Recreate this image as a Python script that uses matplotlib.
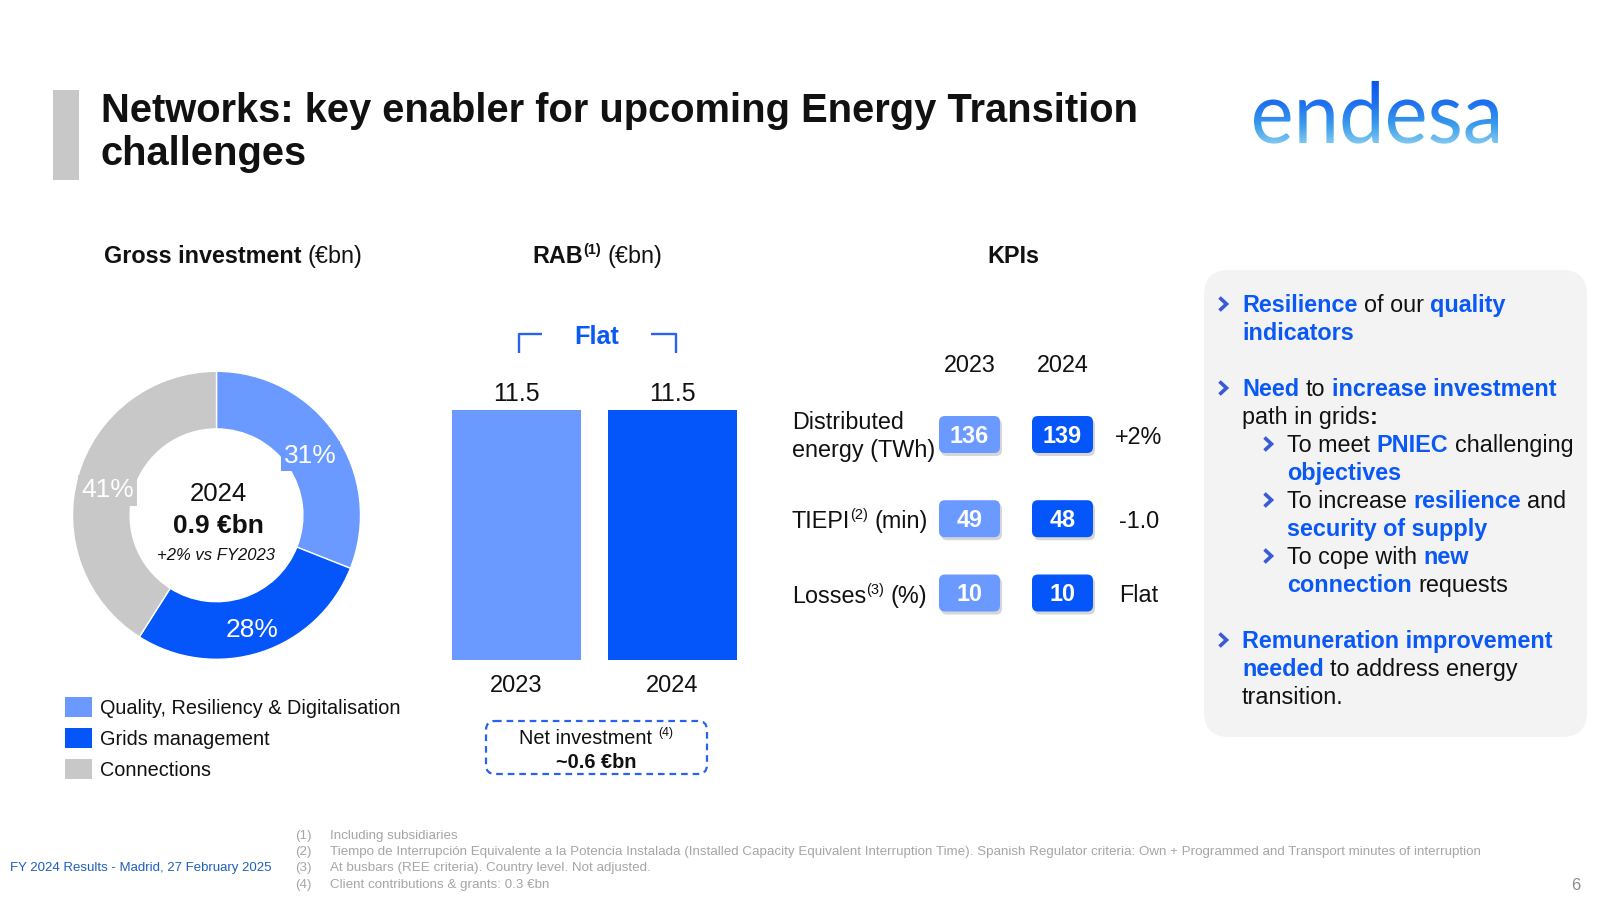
import matplotlib
matplotlib.use("Agg")
import matplotlib.pyplot as plt
from matplotlib.patches import FancyBboxPatch, PathPatch, Rectangle
from matplotlib.textpath import TextPath
from matplotlib.font_manager import FontProperties, fontManager
from matplotlib.transforms import Affine2D
from matplotlib.colors import LinearSegmentedColormap
import numpy as np

# ---------------- data ----------------
title_lines = ["Networks: key enabler for upcoming Energy Transition", "challenges"]

inv_labels = ["Quality, Resiliency & Digitalisation", "Grids management", "Connections"]
inv_shares = [31, 28, 41]
inv_year = "2024"
inv_total = "0.9 €bn"
inv_growth = "+2% vs FY2023"

rab_years = ["2023", "2024"]
rab_values = [11.5, 11.5]
rab_change = "Flat"
net_invest = "~0.6 €bn"

kpi_years = ["2023", "2024"]
kpi_2023 = [136, 49, 10]
kpi_2024 = [139, 48, 10]
kpi_delta = ["+2%", "-1.0", "Flat"]

footer = "FY 2024 Results - Madrid, 27 February 2025"
footnotes = [
    "Including subsidiaries",
    "Tiempo de Interrupción Equivalente a la Potencia Instalada (Installed Capacity Equivalent Interruption Time). "
    "Spanish Regulator criteria: Own + Programmed and Transport minutes of interruption",
    "At busbars (REE criteria). Country level. Not adjusted.",
    "Client contributions & grants: 0.3 €bn",
]
page_no = "6"

# ---------------- style ----------------
plt.rcParams["font.family"] = ["Liberation Sans", "DejaVu Sans"]
LIGHT = "#6A99FF"
DARK = "#0556FA"
GREY = "#C8C8C8"
TXT = "#111111"
HL = "#0A58F5"
CHEV = "#3A5BD8"
FN = "#A6A6A6"

W, H = 1600, 900
fig = plt.figure(figsize=(16, 9), dpi=100)
fig.patch.set_facecolor("white")
R = fig.canvas.get_renderer()


def px_axes(x0, y0, x1, y1, z=1):
    return fig.add_axes([x0 / W, 1 - y1 / H, (x1 - x0) / W, (y1 - y0) / H], zorder=z)


ax0 = px_axes(0, 0, W, H, z=5)
ax0.set_xlim(0, W)
ax0.set_ylim(H, 0)
ax0.axis("off")
ax0.patch.set_alpha(0)

PX = 100 / 72.0


def rich(x, y, parts, size, ha="left", family=None):
    """parts: list of (text, color, weight, sup)"""
    spx = size * PX
    base = y + 0.716 * spx / 2
    cx = x
    made = []
    for p in parts:
        text = p[0]
        color = p[1] if len(p) > 1 and p[1] else TXT
        weight = p[2] if len(p) > 2 and p[2] else "normal"
        sup = p[3] if len(p) > 3 else False
        fs = size * 0.62 if sup else size
        sw = 0.278 * fs * PX
        lead = len(text) - len(text.lstrip(" "))
        trail = len(text) - len(text.rstrip(" "))
        s = text.strip(" ")
        cx += lead * sw
        yy = base - (0.40 * spx if sup else 0)
        kw = {}
        if family:
            kw["family"] = family
        t = ax0.text(cx, yy, s, fontsize=fs, color=color, weight=weight,
                     ha="left", va="baseline", **kw)
        w = t.get_window_extent(renderer=R).width if s else 0
        made.append(t)
        cx += w + trail * sw
    total = cx - x
    if ha == "center":
        for t in made:
            t.set_x(t.get_position()[0] - total / 2)
    return made


def ctext(x, y, s, size, color=TXT, weight="normal", style="normal", ha="center"):
    spx = size * PX
    return ax0.text(x, y + 0.716 * spx / 2, s, fontsize=size, color=color,
                    weight=weight, style=style, ha=ha, va="baseline")


# ---------------- title ----------------
ax0.add_patch(Rectangle((53, 90), 26, 90, color=GREY, lw=0))
ax0.text(101, 122, title_lines[0], fontsize=28.7, weight="bold", color=TXT, va="baseline")
ax0.text(101, 165, title_lines[1], fontsize=28.7, weight="bold", color=TXT, va="baseline")

# ---------------- logo (gradient text) ----------------
names = {f.name for f in fontManager.ttflist}
logo_fam = "Lato" if "Lato" in names else "DejaVu Sans"
tp = TextPath((0, 0), "endesa", size=100, prop=FontProperties(family=logo_fam, weight="normal"))
bb = tp.get_extents()
lx0, lx1, lbase, xh = 1254, 1498, 143, 44
sx = (lx1 - lx0) / bb.width
sy = xh / 52.0
trans = Affine2D().translate(-bb.x0, 0).scale(sx, -sy).translate(lx0, lbase) + ax0.transData
patch = PathPatch(tp, transform=trans, facecolor="none", edgecolor="none")
ax0.add_patch(patch)
grad = np.linspace(0, 1, 256).reshape(-1, 1)
cmap = LinearSegmentedColormap.from_list("lg", ["#0A55F0", "#1E6FF0", "#3A9CEB", "#8ED0F2"])
im = ax0.imshow(grad, cmap=cmap, extent=(lx0 - 5, lx1 + 5, lbase + 4, lbase - 62),
                aspect="auto", zorder=3)
im.set_clip_path(patch)
ax0.set_xlim(0, W)
ax0.set_ylim(H, 0)

# ---------------- section headings ----------------
rich(233, 255, [("Gross investment", TXT, "bold"), (" (€bn)", TXT, "normal")], 16.8, ha="center")
rich(597, 255, [("RAB", TXT, "bold"), ("(1)", TXT, "bold", True), (" (€bn)", TXT, "normal")], 16.8, ha="center")
ctext(1013, 255, "KPIs", 16.8, weight="bold")

# ---------------- donut ----------------
cx, cy, ro = 216.5, 515.3, 144
axd = px_axes(cx - ro, cy - ro, cx + ro, cy + ro, z=2)
cols = [LIGHT, DARK, GREY]
wedges, _, autot = axd.pie(inv_shares, colors=cols, startangle=90, counterclock=False,
                           radius=1, autopct="%.0f%%", pctdistance=0.79,
                           wedgeprops=dict(width=0.40, edgecolor="white", linewidth=1),
                           textprops=dict(color="white", fontsize=19))
for i, (t, c) in enumerate(zip(autot, cols)):
    t.set_va("center_baseline")
    x, y = t.get_position()
    t.set_position((x, y - (0.015 if i == 0 else 0.03)))
    if i != 1:
        t.set_bbox(dict(boxstyle="square,pad=0.12", facecolor=c, edgecolor="none"))
axd.set_xlim(-1, 1)
axd.set_ylim(-1, 1)
axd.set_aspect("equal")

ctext(218, 492, inv_year, 18.5)
ctext(218, 524, inv_total, 19, weight="bold")
ctext(216, 554, inv_growth, 12, style="italic")

# legend
leg_y = [707, 738, 768.5]
for lab, c, yy in zip(inv_labels, cols, leg_y):
    ax0.add_patch(Rectangle((65, yy - 10), 27, 20, color=c, lw=0))
    ctext(100, yy, lab, 14.3, ha="left")

# ---------------- RAB bars ----------------
bw = 129 / 156.0
axb = px_axes(452, 410, 737, 660, z=2)
axb.bar(range(len(rab_values)), rab_values, width=bw, color=[LIGHT, DARK], lw=0)
axb.set_xlim(-bw / 2, 1 + bw / 2)
axb.set_ylim(0, max(rab_values))
axb.axis("off")
for i, (v, yr) in enumerate(zip(rab_values, rab_years)):
    axb.annotate(f"{v:.1f}", (i, v), xytext=(0, 13.5), textcoords="offset points",
                 ha="center", va="center_baseline", fontsize=18, color=TXT)
    axb.annotate(yr, (i, 0), xytext=(0, -17), textcoords="offset points",
                 ha="center", va="center_baseline", fontsize=17, color=TXT)

# Flat bracket
BR = "#2A62F0"
ax0.plot([518.5, 518.5, 542], [353, 334, 334], color=BR, lw=1.7, solid_capstyle="butt")
ax0.plot([651, 676, 676], [334, 334, 353], color=BR, lw=1.7, solid_capstyle="butt")
ctext(597, 335, rab_change, 18.2, color=HL, weight="bold")

# net investment box
ax0.add_patch(FancyBboxPatch((494, 729), 205, 37, boxstyle="round,pad=8,rounding_size=9",
                             fill=False, edgecolor=BR, lw=1.6, linestyle=(0, (3, 2.2))))
rich(596, 737, [("Net investment ", TXT), ("(4)", TXT, "normal", True)], 14.3, ha="center")
ctext(596, 761, net_invest, 14.3, weight="bold")

# ---------------- KPIs ----------------
kx = [969.5, 1062.5]
for x, yr in zip(kx, kpi_years):
    ctext(x, 364, yr, 16.8)
rows_y = [434.5, 518.7, 593]
bwk, bhk = 61, 37
for ry, a, b, d in zip(rows_y, kpi_2023, kpi_2024, kpi_delta):
    for x, v, c in zip(kx, [a, b], [LIGHT, DARK]):
        ax0.add_patch(FancyBboxPatch((x - bwk / 2 + 5 + 2, ry - bhk / 2 + 5 + 3), bwk - 10, bhk - 10,
                                     boxstyle="round,pad=5,rounding_size=6",
                                     facecolor="#8A8A8A", edgecolor="none", alpha=0.35, zorder=1))
        ax0.add_patch(FancyBboxPatch((x - bwk / 2 + 5, ry - bhk / 2 + 5), bwk - 10, bhk - 10,
                                     boxstyle="round,pad=5,rounding_size=6",
                                     facecolor=c, edgecolor="none", zorder=2))
        t = ctext(x, ry, str(v), 16.8, color="white", weight="bold")
        t.set_zorder(3)
    ctext(1139, ry + 1, d, 16.8)

ctext(792, 421, "Distributed", 16.8, ha="left")
ctext(792, 448.5, "energy (TWh)", 16.8, ha="left")
rich(792, 520, [("TIEPI",), ("(2)", TXT, "normal", True), (" (min)",)], 16.8)
rich(792, 595, [("Losses",), ("(3)", TXT, "normal", True), (" (%)",)], 16.8)

# ---------------- right panel ----------------
ax0.add_patch(FancyBboxPatch((1204 + 25, 270 + 25), 383 - 50, 467 - 50,
                             boxstyle="round,pad=25,rounding_size=25",
                             facecolor="#F3F3F3", edgecolor="none", zorder=0))


def chev(x, y):
    ax0.plot([x - 3.5, x + 3.5, x - 3.5], [y - 6.5, y, y + 6.5], color=CHEV, lw=2.6,
             solid_joinstyle="miter", solid_capstyle="butt")


B = (HL, "bold")
N = (TXT, "normal")
panel = [
    (True, False, 304, [("Resilience",) + B, (" of our ",) + N, ("quality",) + B]),
    (False, False, 331.6, [("indicators",) + B]),
    (True, False, 388, [("Need",) + B, (" to ",) + N, ("increase investment",) + B]),
    (False, False, 415.3, [("path in grids",) + N, (":", TXT, "bold")]),
    (True, True, 444, [("To meet ",) + N, ("PNIEC",) + B, (" challenging",) + N]),
    (False, True, 471.4, [("objectives",) + B]),
    (True, True, 500, [("To increase ",) + N, ("resilience",) + B, (" and",) + N]),
    (False, True, 527.6, [("security of supply",) + B]),
    (True, True, 556, [("To cope with ",) + N, ("new",) + B]),
    (False, True, 583.7, [("connection",) + B, (" requests",) + N]),
    (True, False, 640, [("Remuneration improvement",) + B]),
    (False, False, 667.3, [("needed",) + B, (" to address energy",) + N]),
    (False, False, 696, [("transition.",) + N]),
]
for has_chev, sub, yy, parts in panel:
    tx = 1287 if sub else 1242
    if has_chev:
        chev(tx - 19, yy)
    rich(tx, yy, parts, 16.8)

# ---------------- footer ----------------
fam_n = "Liberation Sans Narrow" if "Liberation Sans Narrow" in names else "Liberation Sans"
t_test = ax0.text(0, -100, footnotes[1], fontsize=10, family=fam_n)
wtest = t_test.get_window_extent(renderer=R).width
t_test.remove()
fn_size = 10 * 1155 / wtest
fy = [836, 852, 868, 885]
for i, (s, yy) in enumerate(zip(footnotes, fy)):
    ax0.text(295, yy, f"({i + 1})", fontsize=fn_size, family=fam_n, color=FN, va="center")
    ax0.text(330, yy, s, fontsize=fn_size, family=fam_n, color=FN, va="center")
t_test = ax0.text(0, -100, footer, fontsize=10, family=fam_n)
wf = t_test.get_window_extent(renderer=R).width
t_test.remove()
ax0.text(10, 868, footer, fontsize=10 * 264 / wf, family=fam_n, color="#1F5FBF", va="center")
ax0.text(1580, 886, page_no, fontsize=12, family=fam_n, color="#8C8C8C", va="center", ha="right")

fig.savefig("out.png", dpi=100, facecolor="white")
